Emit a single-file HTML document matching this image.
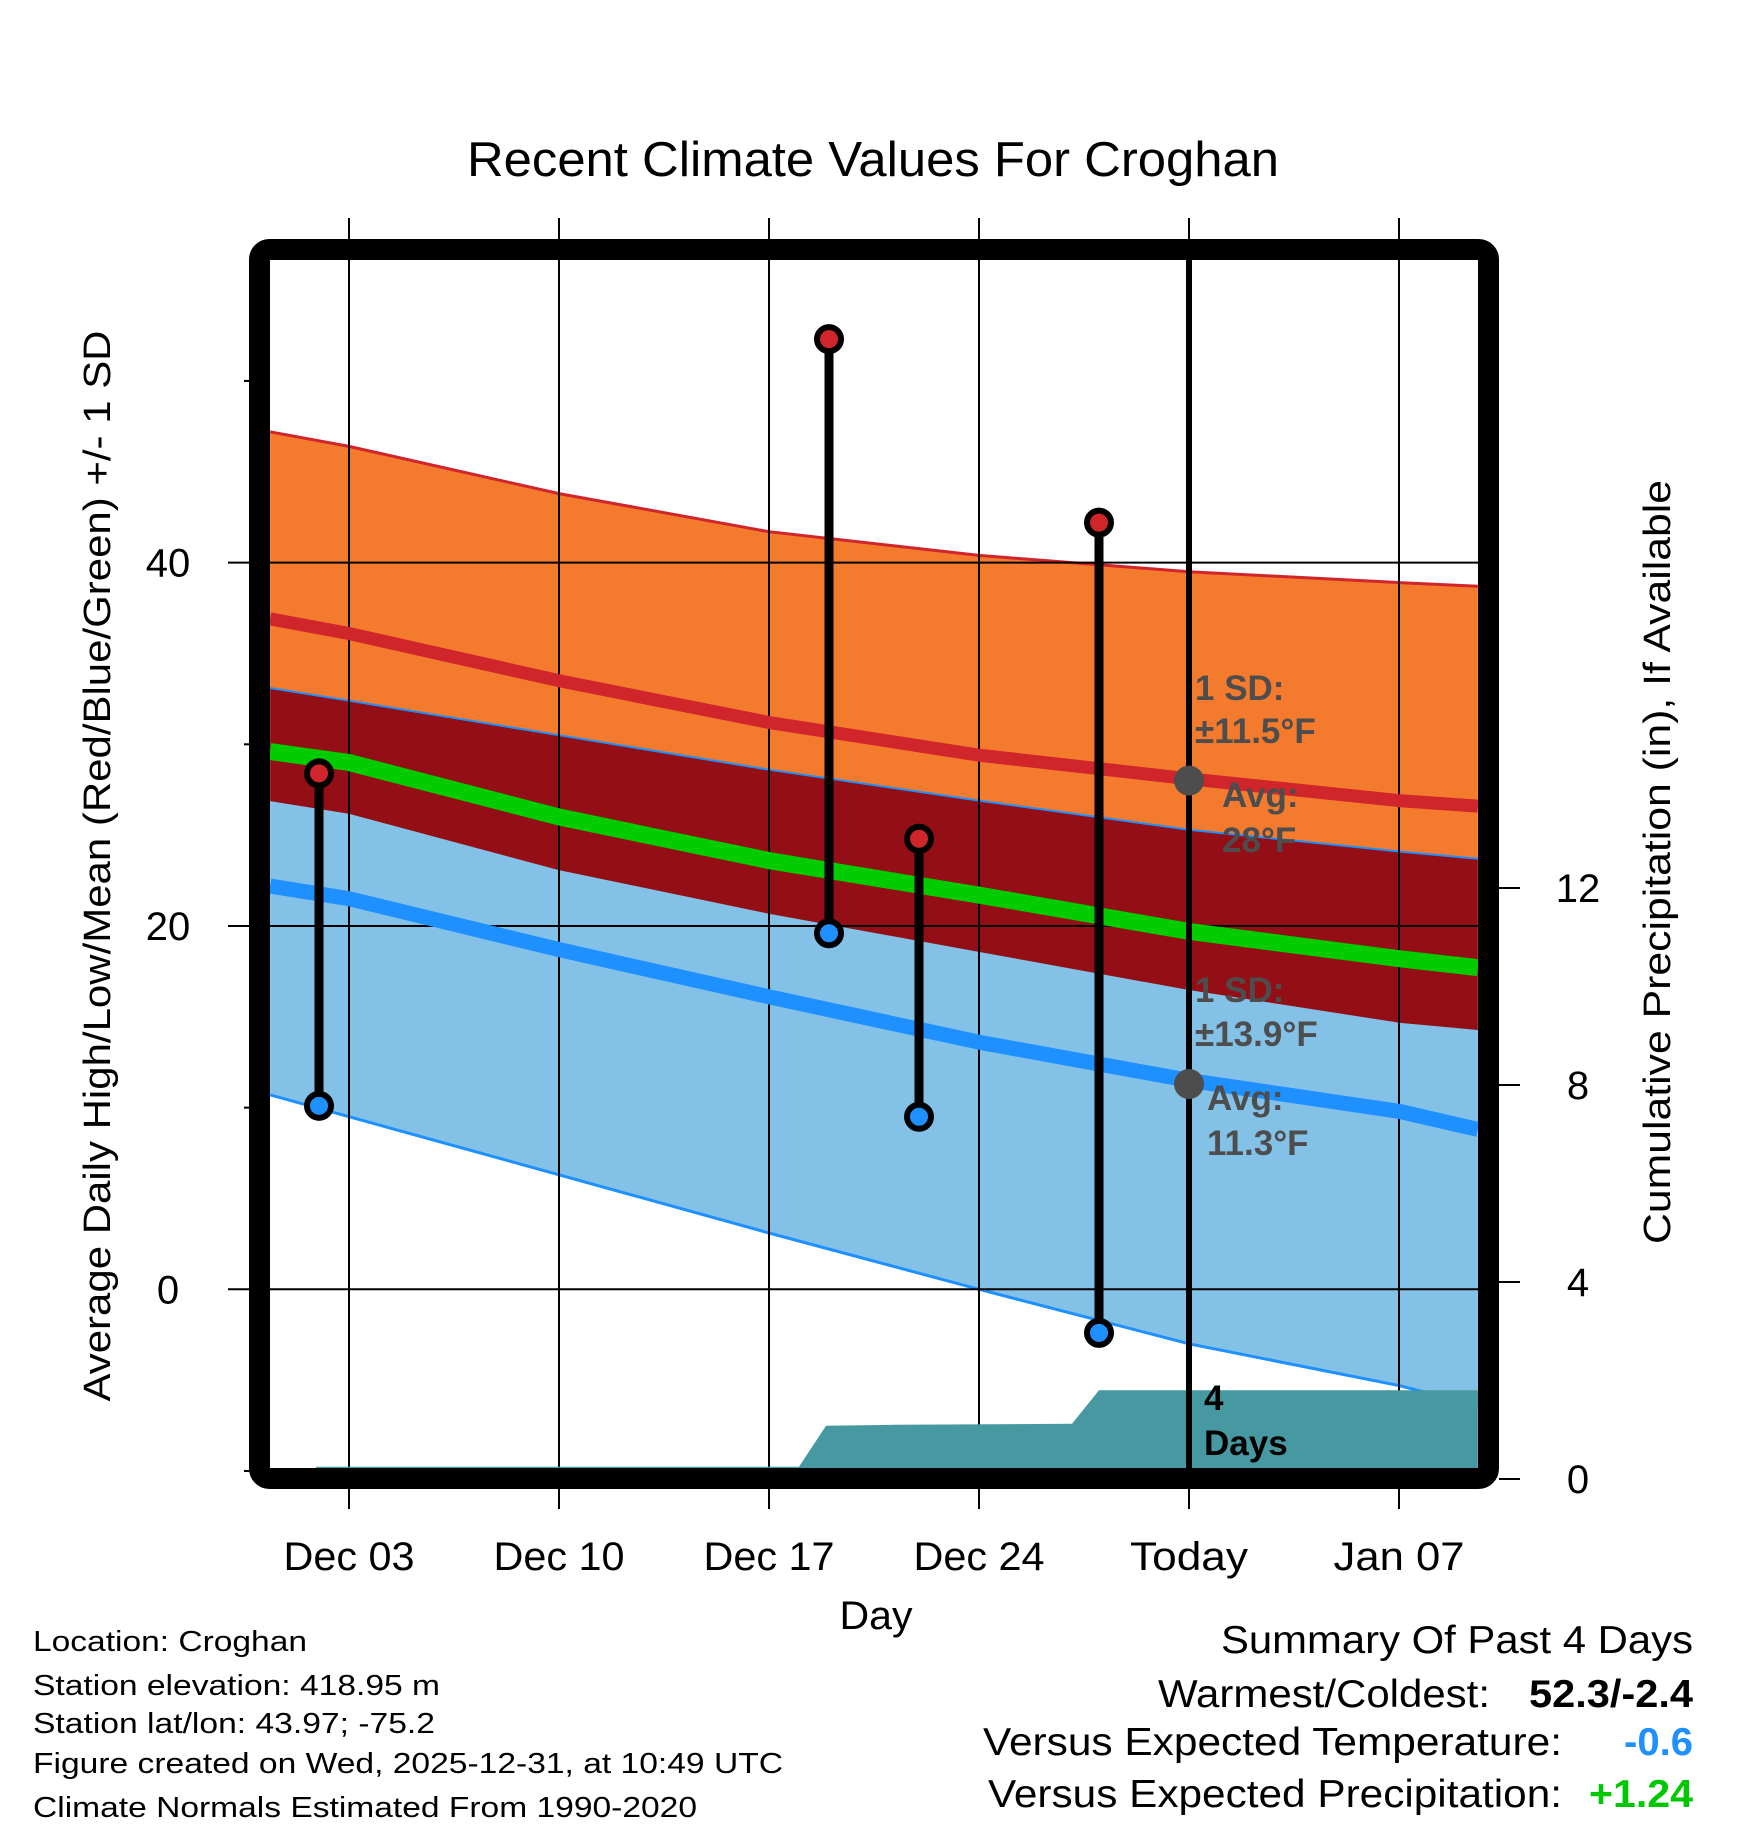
<!DOCTYPE html>
<html><head><meta charset="utf-8"><style>
html,body{margin:0;padding:0;background:#fff;}
svg{display:block;font-family:"Liberation Sans",Arial,sans-serif;}
</style></head><body>
<svg id="chart" width="1748" height="1828" viewBox="0 0 1748 1828" xmlns="http://www.w3.org/2000/svg">
<defs><clipPath id="plotClip"><rect x="270" y="260" width="1208" height="1208"/></clipPath></defs>
<text x="467" y="176" font-size="49" textLength="812" lengthAdjust="spacingAndGlyphs">Recent Climate Values For Croghan</text>
<g id="fills" clip-path="url(#plotClip)"></g>
<g id="grid"></g>
<g id="lines" clip-path="url(#plotClip)"></g>
<g id="precip" clip-path="url(#plotClip)"></g>
<g id="annot"></g>
<g id="obs"></g>
<rect x="259.5" y="249.5" width="1229" height="1229" rx="10" fill="none" stroke="#000" stroke-width="21"/>
<g id="axes"></g>
<text transform="translate(110,866) rotate(-90)" text-anchor="middle" font-size="38" textLength="1071" lengthAdjust="spacingAndGlyphs">Average Daily High/Low/Mean (Red/Blue/Green) +/- 1 SD</text>
<text transform="translate(1670,862) rotate(-90)" text-anchor="middle" font-size="38" textLength="764" lengthAdjust="spacingAndGlyphs">Cumulative Precipitation (in), If Available</text>
<text x="876" y="1629" text-anchor="middle" font-size="40" textLength="73" lengthAdjust="spacingAndGlyphs">Day</text>
<g font-size="29">
<text x="33" y="1651" textLength="274" lengthAdjust="spacingAndGlyphs">Location: Croghan</text>
<text x="33" y="1695" textLength="407" lengthAdjust="spacingAndGlyphs">Station elevation: 418.95 m</text>
<text x="33" y="1733" textLength="402" lengthAdjust="spacingAndGlyphs">Station lat/lon: 43.97; -75.2</text>
<text x="33" y="1773" textLength="750" lengthAdjust="spacingAndGlyphs">Figure created on Wed, 2025-12-31, at 10:49 UTC</text>
<text x="33" y="1817" textLength="664" lengthAdjust="spacingAndGlyphs">Climate Normals Estimated From 1990-2020</text>
</g>
<g font-size="39">
<text x="1221" y="1653" textLength="472" lengthAdjust="spacingAndGlyphs">Summary Of Past 4 Days</text>
<text x="1158" y="1707" textLength="332" lengthAdjust="spacingAndGlyphs">Warmest/Coldest:</text>
<text x="1529" y="1707" font-weight="bold" textLength="164" lengthAdjust="spacingAndGlyphs">52.3/-2.4</text>
<text x="983" y="1755" textLength="579" lengthAdjust="spacingAndGlyphs">Versus Expected Temperature:</text>
<text x="1624" y="1755" font-weight="bold" fill="#1e90ff" textLength="69" lengthAdjust="spacingAndGlyphs">-0.6</text>
<text x="988" y="1807" textLength="574" lengthAdjust="spacingAndGlyphs">Versus Expected Precipitation:</text>
<text x="1589" y="1807" font-weight="bold" fill="#00c800" textLength="104" lengthAdjust="spacingAndGlyphs">+1.24</text>
</g>
</svg>
<script>
const normalDays = [0.37, 3, 10, 17, 24, 31, 38, 40.63];
const highPlusSD = [47.2, 46.4, 43.8, 41.7, 40.4, 39.5, 38.9, 38.7];
const highMean = [36.9, 36.1, 33.5, 31.2, 29.4, 28.1, 26.9, 26.6];
const highMinusSD = [33.1, 32.4, 30.5, 28.6, 26.9, 25.3, 24.1, 23.7];
const dailyMean = [29.6, 29.0, 26.0, 23.6, 21.7, 19.7, 18.2, 17.7];
const lowPlusSD = [26.9, 26.2, 23.1, 20.7, 18.6, 16.5, 14.7, 14.3];
const lowMean = [22.2, 21.5, 18.7, 16.1, 13.6, 11.5, 9.8, 8.8];
const lowMinusSD = [10.7, 9.5, 6.3, 3.1, 0.0, -3.0, -5.3, -6.4];
const obsDays = [2, 19, 22, 28];
const obsHigh = [28.4, 52.3, 24.8, 42.2];
const obsLow = [10.1, 19.6, 9.5, -2.4];
const precipDays = [1.9, 18.0, 18.9, 21.2, 27.1, 28.0, 40.63];
const precipVals = [0.25, 0.25, 1.08, 1.1, 1.12, 1.8, 1.8];
const xTickDays = [3, 10, 17, 24, 31, 38];
const xTickLabels = ["Dec 03", "Dec 10", "Dec 17", "Dec 24", "Today", "Jan 07"];
const yTicks = [0, 20, 40];
const yMinorTicks = [-10, 10, 30, 50];
const y2Ticks = [0, 4, 8, 12];
const todayDay = 31;
const todayHighAvg = 28, todayLowAvg = 11.3;

const NS = "http://www.w3.org/2000/svg";
const X = d => 349 + (d - 3) * 30;
const Y = t => 1289.3 - t * 18.167;
const Y2 = p => 1479 - p * 49.25;
function mk(tag, attrs, parent){const e=document.createElementNS(NS,tag);for(const k in attrs)e.setAttribute(k,attrs[k]);parent.appendChild(e);return e;}
const g = id => document.getElementById(id);
const pts = arr => arr.map((v,i)=>X(normalDays[i]).toFixed(1)+","+Y(v).toFixed(1));
function band(top,bot,fill,name){
  const p = pts(top).concat(pts(bot).reverse());
  const e = mk("polygon",{points:p.join(" "),fill:fill},g("fills"));
  
  
}
band(highPlusSD, highMinusSD, "#f47a2e", "high-sd-band");
band(lowPlusSD, lowMinusSD, "#83c1e7", "low-sd-band");
band(highMinusSD, lowPlusSD, "#930e15", "overlap-band");
function line(arr,color,w,name,parent){
  const e = mk("polyline",{points:pts(arr).join(" "),fill:"none",stroke:color,"stroke-width":w},g(parent||"lines"));
  
  
}
line(highPlusSD,"#d0252a",3,"high-plus-sd-line","fills");
line(highMinusSD,"#1e90ff",2,"high-minus-sd-line","fills");
line(lowPlusSD,"#930e15",1,"low-plus-sd-line","fills");
line(lowMinusSD,"#1e90ff",3,"low-minus-sd-line","fills");
yTicks.forEach(t=>{
  const e=mk("line",{x1:228,x2:1478,y1:Y(t),y2:Y(t),stroke:"#000","stroke-width":2},g("grid"));
  
  
  const l=mk("text",{x:168,y:Y(t)+14,"text-anchor":"middle","font-size":40},g("axes"));
  l.textContent=t;
  
  
});
yMinorTicks.forEach(t=>{
  const e=mk("line",{x1:244,x2:250,y1:Y(t),y2:Y(t),stroke:"#000","stroke-width":2},g("grid"));
  
  
});
xTickDays.forEach((d,i)=>{
  const e=mk("line",{x1:X(d),x2:X(d),y1:218,y2:1509,stroke:"#000","stroke-width":2},g("grid"));
  
  
  const l=mk("text",{x:X(d),y:1570,"text-anchor":"middle","font-size":40,textLength:xTickLabels[i]=="Today"?118:131,lengthAdjust:"spacingAndGlyphs"},g("axes"));
  l.textContent=xTickLabels[i];
  
  
});
y2Ticks.forEach(p=>{
  const e=mk("line",{x1:1499,x2:1520,y1:Y2(p),y2:Y2(p),stroke:"#000","stroke-width":2},g("axes"));
  
  
  const l=mk("text",{x:1578,y:Y2(p)+14,"text-anchor":"middle","font-size":40},g("axes"));
  l.textContent=p;
  
  
});
line(highMean,"#d0252a",13,"high-mean-line");
line(dailyMean,"#00cc00",17,"daily-mean-line");
line(lowMean,"#1e90ff",15,"low-mean-line");
{
  const p=precipDays.map((d,i)=>X(d).toFixed(1)+","+Y2(precipVals[i]).toFixed(1));
  p.push(X(precipDays[precipDays.length-1])+","+1480, X(precipDays[0])+","+1480);
  const e=mk("polygon",{points:p.join(" "),fill:"#4799a1"},g("precip"));
  
  
}
{
  const e=mk("line",{x1:X(todayDay),x2:X(todayDay),y1:260,y2:1468,stroke:"#000","stroke-width":6},g("annot"));
  
  
  [[todayHighAvg,'today-high-avg-dot'],[todayLowAvg,'today-low-avg-dot']].forEach(([t,n])=>{
    const c=mk("circle",{cx:X(todayDay),cy:Y(t),r:15,fill:"#4d4d4d"},g("annot"));
    
    
  });
  const labels=[["1 SD:",1195,700,"high-sd-label"],["±11.5°F",1195,743,"high-sd-value"],["Avg:",1222,807,"high-avg-label"],[todayHighAvg+"°F",1222,852,"high-avg-value"],
   ["1 SD:",1195,1002,"low-sd-label"],["±13.9°F",1195,1046,"low-sd-value"],["Avg:",1207,1110,"low-avg-label"],[todayLowAvg+"°F",1207,1155,"low-avg-value"]];
  labels.forEach(([s,x,y,n])=>{
    const t=mk("text",{x:x,y:y,"font-size":35,"font-weight":"bold",fill:"#4d4d4d"},g("annot"));
    t.textContent=s;
    
    
  });
  [["4",1204,1410],["Days",1204,1455]].forEach(([s,x,y])=>{
    const t=mk("text",{x:x,y:y,"font-size":35,"font-weight":"bold",fill:"#000"},g("annot"));
    t.textContent=s;
    
    
  });
}
obsDays.forEach((d,i)=>{
  const x=X(d);
  const s=mk("line",{x1:x,x2:x,y1:Y(obsHigh[i]),y2:Y(obsLow[i]),stroke:"#000","stroke-width":9},g("obs"));
  
  
  const h=mk("circle",{cx:x,cy:Y(obsHigh[i]),r:12,fill:"#d0252a",stroke:"#000","stroke-width":6},g("obs"));
  
  
  const l=mk("circle",{cx:x,cy:Y(obsLow[i]),r:12,fill:"#1e90ff",stroke:"#000","stroke-width":6},g("obs"));
  
  
});
</script>
</body></html>
